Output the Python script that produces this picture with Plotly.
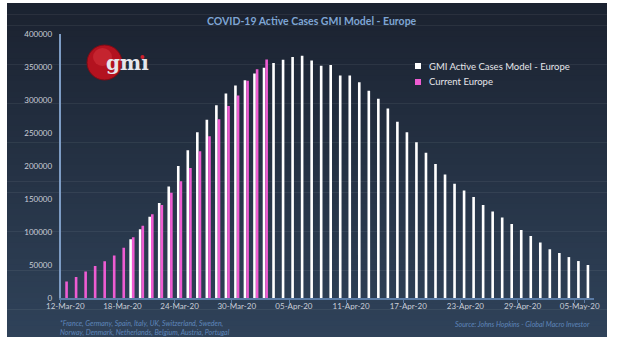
import plotly.graph_objects as go
import pandas as pd

W, H = 623, 349

dates = pd.date_range("2020-03-12", "2020-05-06", freq="D")
categories = [d.strftime("%d-%b-%y") for d in dates]

model_values = [None] * 7 + [
    89000, 104000, 123000, 144000, 169000, 200000, 224000, 251000, 270000, 292000,
    310000, 322000, 330000, 340000, 349000, 356000, 361000, 365000, 367000, 360000,
    352000, 353000, 337000, 337000, 327000, 314000, 302000, 287000, 267000, 251000,
    236000, 220000, 203000, 187000, 173000, 163000, 153000, 141000, 131000, 122000,
    112000, 103000, 94000, 84000, 74000, 68000, 62000, 56000, 50000,
]
current_values = [
    25000, 32000, 40000, 48500, 55500, 64500, 76000, 92000, 109500, 127000,
    141000, 159500, 177000, 197000, 222500, 245000, 271000, 291000, 307000, 329000,
    346500, 361500,
] + [None] * 34

tick_labels = categories[0::6]
y_ticks = list(range(0, 400001, 50000))

title_text = "COVID-19 Active Cases GMI Model - Europe"
series_names = ["GMI Active Cases Model - Europe", "Current Europe"]
footnote_left = ("*France, Germany, Spain, Italy, UK, Switzerland, Sweden,<br>"
                 "Norway, Denmark, Netherlands, Belgium, Austria, Portugal")
footnote_right = "Source: Johns Hopkins - Global Macro Investor"

WHITE = "#ffffff"
PINK = "#ee5cd2"
FONT = "Lato"
series_colors = [WHITE, PINK]


def px(x):
    return x / W


def py(y):
    return 1 - y / H


fig = go.Figure()
fig.add_trace(go.Bar(x=categories, y=model_values, name=series_names[0],
                     marker=dict(color=WHITE, line=dict(width=0))))
fig.add_trace(go.Bar(x=categories, y=current_values, name=series_names[1],
                     marker=dict(color=PINK, line=dict(width=0))))

# gradient panel
shapes = []
top_c = (27, 34, 48)
bot_c = (47, 66, 89)
x0, x1, y0, y1 = 7, 607, 3, 337
n = 60
for i in range(n):
    t = i / (n - 1)
    c = tuple(int(round(top_c[k] + (bot_c[k] - top_c[k]) * t)) for k in range(3))
    ya = y0 + (y1 - y0) * i / n
    yb = y0 + (y1 - y0) * (i + 1) / n + 0.6
    shapes.append(dict(type="rect", xref="paper", yref="paper", layer="below",
                       x0=px(x0), x1=px(x1), y0=py(min(yb, y1)), y1=py(ya),
                       fillcolor="rgb(%d,%d,%d)" % c, line=dict(width=0)))
# logo globe
shapes.append(dict(type="circle", xref="paper", yref="paper", layer="above",
                   x0=px(87), x1=px(122), y0=py(80), y1=py(45),
                   fillcolor="#b3121f", line=dict(color="#7d0c15", width=1)))
shapes.append(dict(type="circle", xref="paper", yref="paper", layer="above",
                   x0=px(93), x1=px(112), y0=py(66), y1=py(48),
                   fillcolor="#d0303a", line=dict(width=0), opacity=0.6))
shapes.append(dict(type="circle", xref="paper", yref="paper", layer="above",
                   x0=px(140.5), x1=px(144.5), y0=py(59), y1=py(55),
                   fillcolor="#d0202c", line=dict(width=0)))

annotations = [
    dict(text="<b>" + title_text + "</b>", x=px(312), y=py(21), xref="paper", yref="paper",
         showarrow=False, xanchor="center", yanchor="middle",
         font=dict(family=FONT, size=10.5, color="#7ea5d4")),
    dict(text="<b>gm\u0131</b>", x=px(127), y=py(63), xref="paper", yref="paper",
         showarrow=False, xanchor="center", yanchor="middle",
         font=dict(family="DejaVu Serif", size=20, color="#e6e6ec")),
    dict(text="<i>" + footnote_left + "</i>", x=px(58), y=py(328), xref="paper", yref="paper",
         showarrow=False, xanchor="left", yanchor="middle", align="left",
         font=dict(family=FONT, size=7, color="#5f86ba")),
    dict(text="<i>" + footnote_right + "</i>", x=px(592), y=py(324), xref="paper", yref="paper",
         showarrow=False, xanchor="right", yanchor="middle",
         font=dict(family=FONT, size=7, color="#5f86ba")),
]

# legend drawn manually
for k, (name, col) in enumerate(zip(series_names, series_colors)):
    yc = 66 + 16 * k
    shapes.append(dict(type="rect", xref="paper", yref="paper", layer="above",
                       x0=px(415), x1=px(421), y0=py(yc + 3), y1=py(yc - 3),
                       fillcolor=col, line=dict(width=0)))
    annotations.append(dict(text=name, x=px(427), y=py(yc), xref="paper", yref="paper",
                            showarrow=False, xanchor="left", yanchor="middle",
                            font=dict(family=FONT, size=9.5, color="#e6e6ea")))

fig.update_layout(
    width=W, height=H,
    margin=dict(l=0, r=0, t=0, b=0, autoexpand=False),
    paper_bgcolor="#ffffff",
    plot_bgcolor="rgba(0,0,0,0)",
    barmode="group",
    bargap=0.45,
    bargroupgap=0,
    shapes=shapes,
    annotations=annotations,
    showlegend=False,
    xaxis=dict(
        type="category", domain=[px(60.5), px(594)], automargin=False,
        tickmode="array", tickvals=tick_labels, ticktext=tick_labels, tickangle=0,
        tickson="boundaries", ticks="outside", ticklen=3, tickcolor="#5b7ca6",
        showline=True, linecolor="#5b7ca6", linewidth=1.5,
        showgrid=False, zeroline=False,
        tickfont=dict(family=FONT, size=8, color="#c9ced8"),
        range=[-0.5, len(categories) - 0.5],
    ),
    yaxis=dict(
        domain=[py(298), py(34)], range=[0, 400000], automargin=False,
        tickmode="array", tickvals=y_ticks, tickformat="d",
        showline=True, linecolor="#7d9cc4", linewidth=1.5,
        showgrid=False, zeroline=False, ticks="",
        ticklabelstandoff=5,
        tickfont=dict(family=FONT, size=8, color="#c9ced8"),
    ),
)

fig.write_html("out.html")
